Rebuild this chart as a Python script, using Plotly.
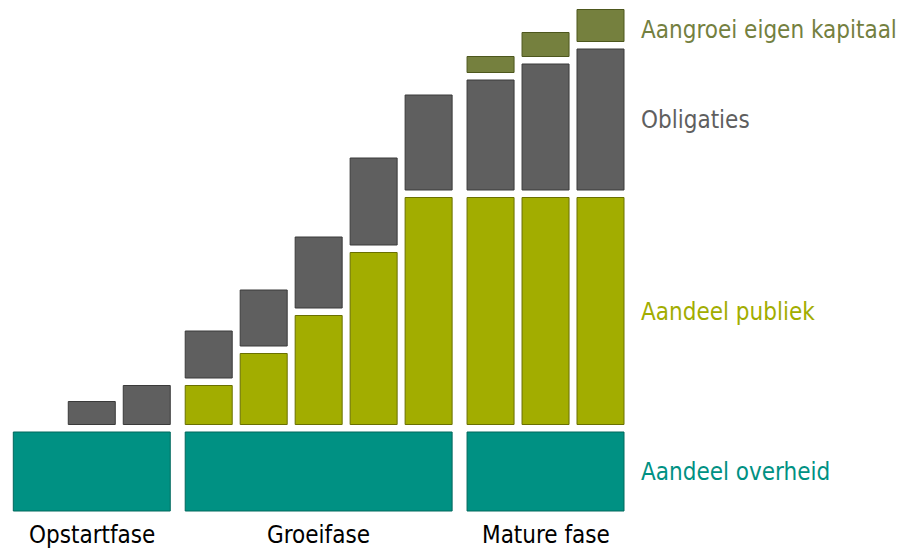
import plotly.graph_objects as go

# ---------------- data ----------------
phases = ["Opstartfase", "Groeifase", "Mature fase"]
columns_per_phase = [3, 5, 3]
aandeel_overheid = [79, 79, 79]                       # one block per phase
aandeel_publiek = [0, 0, 0, 39, 71, 109, 172, 227, 227, 227, 227]
obligaties = [0, 23, 39, 47, 56, 71, 87, 95, 110, 126, 141]
aangroei_eigen_kapitaal = [0, 0, 0, 0, 0, 0, 0, 0, 16, 24, 32]
series_names = ["Aangroei eigen kapitaal", "Obligaties", "Aandeel publiek", "Aandeel overheid"]

# ---------------- style / layout ----------------
BAR_W = 0.855
GROUP_GAP = 0.127
SEG_GAP = 7.5
FONT = "DejaVu Sans Condensed, DejaVu Sans, sans-serif"

C_TEAL, L_TEAL = "#009183", "#00685d"
C_GREEN, L_GREEN = "#a2ad00", "#6a7000"
C_GRAY, L_GRAY = "#5f5f5f", "#3a3a3a"
C_OLIVE, L_OLIVE = "#75803e", "#4d571d"
T_OLIVE, T_GRAY, T_GREEN, T_TEAL = "#74803f", "#5f5f5f", "#a2ad00", "#009183"

# column positions
pos, group_of = [], []
idx = 0
for g, n in enumerate(columns_per_phase):
    for _ in range(n):
        pos.append(idx + g * GROUP_GAP)
        group_of.append(g)
        idx += 1

group_centers, group_widths = [], []
for g in range(len(phases)):
    p = [pos[i] for i in range(len(pos)) if group_of[i] == g]
    group_centers.append(sum(p) / len(p))
    group_widths.append(p[-1] - p[0] + BAR_W)

stack_base = [aandeel_overheid[group_of[i]] + SEG_GAP for i in range(len(pos))]

green_y, green_b, gray_y, gray_b, olive_y, olive_b = [], [], [], [], [], []
for i in range(len(pos)):
    b = stack_base[i]
    g = aandeel_publiek[i]
    green_y.append(g if g > 0 else None)
    green_b.append(b)
    top = b + (g + SEG_GAP if g > 0 else 0)
    o = obligaties[i]
    gray_y.append(o if o > 0 else None)
    gray_b.append(top)
    top2 = top + (o + SEG_GAP if o > 0 else 0)
    e = aangroei_eigen_kapitaal[i]
    olive_y.append(e if e > 0 else None)
    olive_b.append(top2)

fig = go.Figure()
fig.add_trace(go.Bar(x=group_centers, y=aandeel_overheid, base=[0]*3, width=group_widths,
                     marker=dict(color=C_TEAL, line=dict(color=L_TEAL, width=1)),
                     name=series_names[3], hoverinfo="skip"))
fig.add_trace(go.Bar(x=pos, y=green_y, base=green_b, width=BAR_W,
                     marker=dict(color=C_GREEN, line=dict(color=L_GREEN, width=1)),
                     name=series_names[2], hoverinfo="skip"))
fig.add_trace(go.Bar(x=pos, y=gray_y, base=gray_b, width=BAR_W,
                     marker=dict(color=C_GRAY, line=dict(color=L_GRAY, width=1)),
                     name=series_names[1], hoverinfo="skip"))
fig.add_trace(go.Bar(x=pos, y=olive_y, base=olive_b, width=BAR_W,
                     marker=dict(color=C_OLIVE, line=dict(color=L_OLIVE, width=1)),
                     name=series_names[0], hoverinfo="skip"))

# right-hand series labels
label_y = [481, 391, 199, 39]
label_colors = [T_OLIVE, T_GRAY, T_GREEN, T_TEAL]
for name, yv, col in zip(series_names, label_y, label_colors):
    fig.add_annotation(x=639 / 901, xref="paper", xanchor="left", y=yv, yref="y",
                       yanchor="middle", text=name, showarrow=False,
                       font=dict(family=FONT, size=24, color=col))

# phase labels
for name, xc in zip(phases, group_centers):
    fig.add_annotation(x=xc, xref="x", xanchor="center", y=-24, yref="y",
                       yanchor="middle", text=name, showarrow=False,
                       font=dict(family=FONT, size=24, color="#000000"))

fig.update_layout(
    width=901, height=548, margin=dict(l=0, r=0, t=0, b=0),
    paper_bgcolor="white", plot_bgcolor="white",
    barmode="overlay", showlegend=False,
    xaxis=dict(range=[-0.6695, 15.72], visible=False, fixedrange=True),
    yaxis=dict(range=[-37, 511], visible=False, fixedrange=True),
)
fig.write_html("out.html", config={"displayModeBar": False})
